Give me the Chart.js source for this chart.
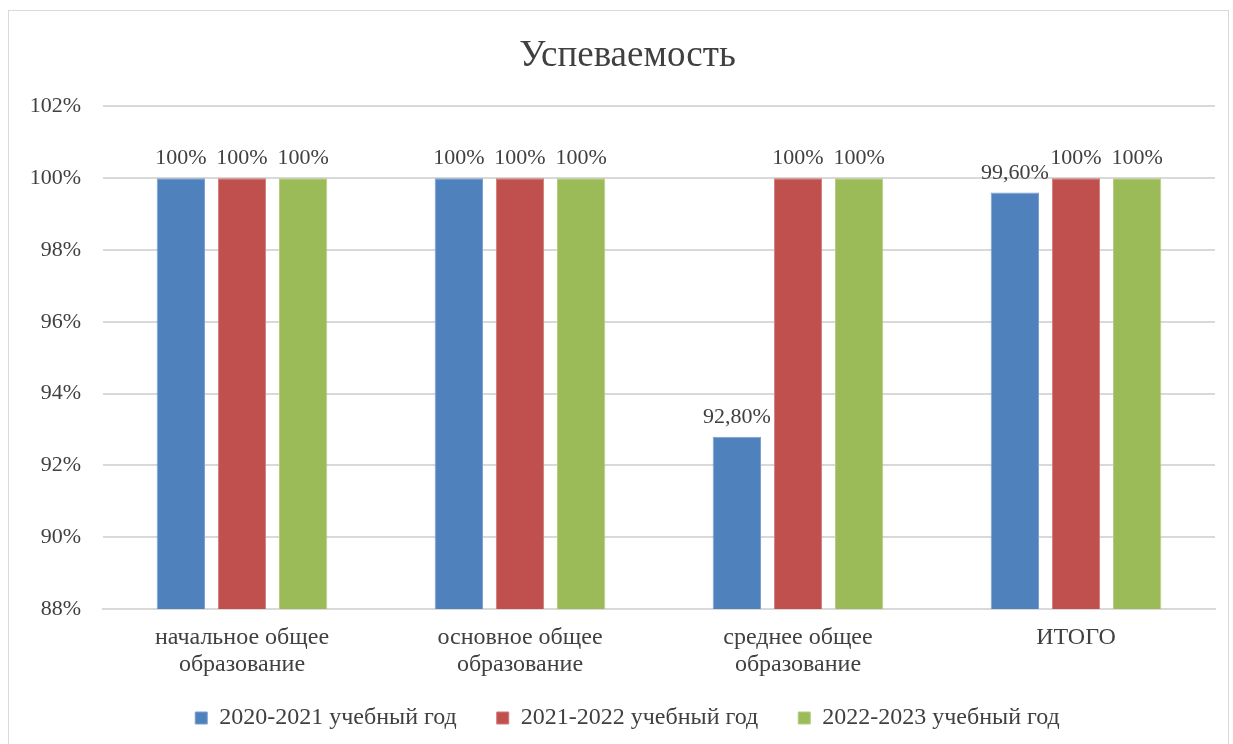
<!DOCTYPE html>
<html>
<head>
<meta charset="utf-8">
<script src="https://cdn.jsdelivr.net/npm/chart.js@4"></script>
<style>
  body { margin: 0; background: #fff; }
  .frame { position: absolute; left: 8px; top: 10px; width: 1219px; height: 740px; border: 1px solid #d9d9d9; }
  canvas { position: absolute; left: 0; top: 0; }
</style>
</head>
<body>
<div class="frame"></div>
<canvas id="ChartUsp" width="1233" height="744"></canvas>
<script>
// categories
const categorias = [
    ['начальное общее', 'образование'],
    ['основное общее', 'образование'],
    ['среднее общее', 'образование'],
    'ИТОГО'
];
const anos = ['2020-2021 учебный год', '2021-2022 учебный год', '2022-2023 учебный год'];

// values (%)
const ano2021 = [100, 100, 92.8, 99.6];
const ano2022 = [100, 100, 100, 100];
const ano2023 = [100, 100, 100, 100];

// labels printed above the bars
const rotulos2021 = ['100%', '100%', '92,80%', '99,60%'];
const rotulos2022 = ['100%', '100%', '100%', '100%'];
const rotulos2023 = ['100%', '100%', '100%', '100%'];

const yTicks = [88, 90, 92, 94, 96, 98, 100, 102];

const fonte = 'Liberation Serif';
const corTexto = '#404040';

const rotulosPlugin = {
    id: 'rotulos',
    afterDatasetsDraw(chart) {
        const ctx = chart.ctx;
        ctx.save();
        ctx.font = '22px "' + fonte + '"';
        ctx.fillStyle = corTexto;
        ctx.textAlign = 'center';
        ctx.textBaseline = 'alphabetic';
        chart.data.datasets.forEach((ds, i) => {
            const meta = chart.getDatasetMeta(i);
            meta.data.forEach((bar, j) => {
                ctx.fillText(ds.rotulos[j], bar.x, bar.y - 14);
            });
        });
        ctx.restore();
    }
};

// labels are clipped to the axis box by default, turn that off
function semClip(scale) {
    scale._computeLabelArea = () => null;
}

const data = {
    labels: categorias,
    datasets: [{
        label: anos[0],
        data: ano2021,
        rotulos: rotulos2021,
        backgroundColor: '#4f81bd',
        borderColor: '#7a9fd0',
        borderWidth: 1
    },
    {
        label: anos[1],
        data: ano2022,
        rotulos: rotulos2022,
        backgroundColor: '#c0504d',
        borderColor: '#d07875',
        borderWidth: 1
    },
    {
        label: anos[2],
        data: ano2023,
        rotulos: rotulos2023,
        backgroundColor: '#9bbb59',
        borderColor: '#b4cd80',
        borderWidth: 1
    }]
};

const config = {
    type: 'bar',
    data: data,
    plugins: [rotulosPlugin],
    options: {
        responsive: false,
        animation: false,
        devicePixelRatio: 1,
        categoryPercentage: 0.66,
        barPercentage: 0.79,
        layout: {
            padding: { left: 40, right: 18, top: 10, bottom: 4 }
        },
        plugins: {
            title: {
                display: true,
                text: 'Успеваемость',
                color: corTexto,
                font: { family: fonte, size: 37, weight: 'normal' },
                padding: { top: 24, bottom: 28 }
            },
            legend: {
                position: 'bottom',
                labels: {
                    color: corTexto,
                    font: { family: fonte, size: 24 },
                    boxWidth: 12,
                    boxHeight: 12,
                    padding: 40
                }
            },
            tooltip: { enabled: false }
        },
        scales: {
            x: {
                grid: { display: false },
                border: { color: '#d9d9d9', width: 2 },
                afterFit: (scale) => { scale.height = 57; semClip(scale); },
                ticks: {
                    color: corTexto,
                    font: { family: fonte, size: 24, lineHeight: 1.1 },
                    padding: 8,
                    maxRotation: 0
                }
            },
            y: {
                min: 88,
                max: 102,
                afterFit: (scale) => { scale.width = 63; semClip(scale); },
                afterBuildTicks: (scale) => { scale.ticks = yTicks.map(v => ({ value: v })); },
                grid: { color: '#d9d9d9', lineWidth: 2, drawTicks: false },
                border: { display: false },
                ticks: {
                    color: corTexto,
                    font: { family: fonte, size: 22 },
                    padding: 22,
                    callback: (v) => v + '%'
                }
            }
        }
    }
};

const myChart = new Chart(document.getElementById('ChartUsp'), config);
</script>
</body>
</html>
